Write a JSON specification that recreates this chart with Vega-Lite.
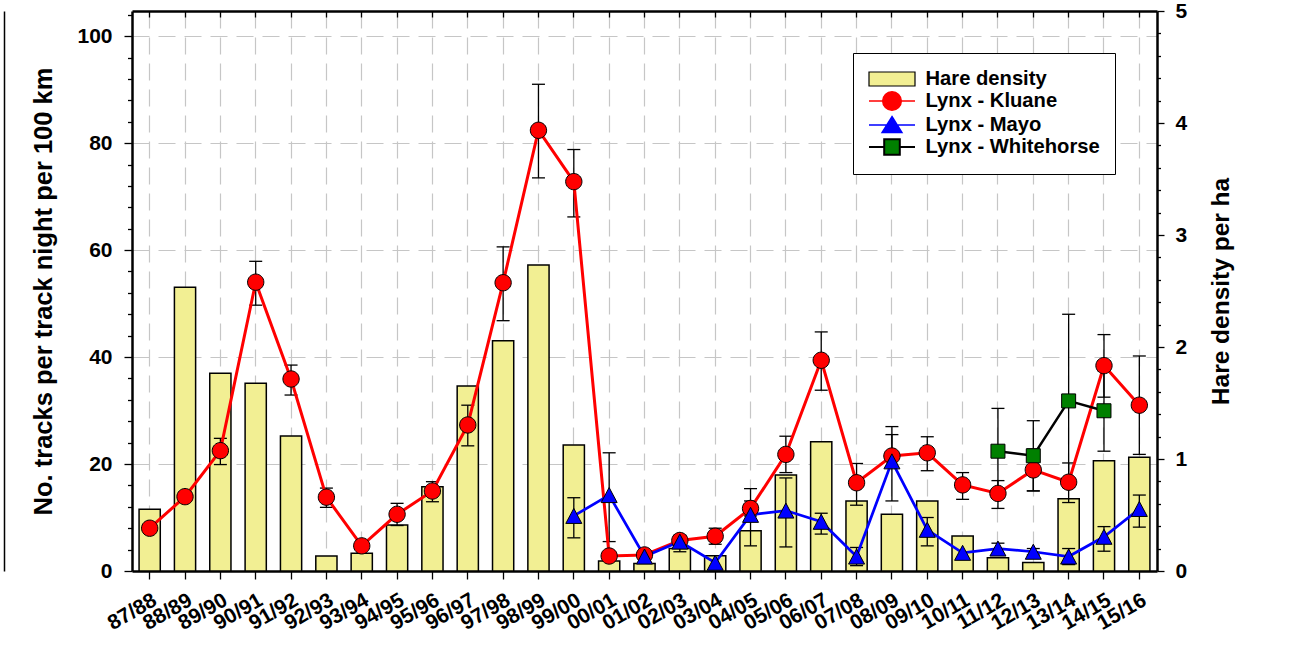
{
  "$schema": "https://vega.github.io/schema/vega-lite/v6.json",
  "width": 1025,
  "height": 560,
  "autosize": {"type": "none"},
  "padding": {"left": 132, "top": 11, "right": 147, "bottom": 99},
  "background": "white",
  "datasets": {
    "hare": [
      {"season": "87/88", "density": 0.551},
      {"season": "88/89", "density": 2.533},
      {"season": "89/90", "density": 1.765},
      {"season": "90/91", "density": 1.676},
      {"season": "91/92", "density": 1.205},
      {"season": "92/93", "density": 0.134},
      {"season": "93/94", "density": 0.158},
      {"season": "94/95", "density": 0.41},
      {"season": "95/96", "density": 0.753},
      {"season": "96/97", "density": 1.652},
      {"season": "97/98", "density": 2.056},
      {"season": "98/99", "density": 2.732},
      {"season": "99/00", "density": 1.125},
      {"season": "00/01", "density": 0.089},
      {"season": "01/02", "density": 0.068},
      {"season": "02/03", "density": 0.2},
      {"season": "03/04", "density": 0.137},
      {"season": "04/05", "density": 0.36},
      {"season": "05/06", "density": 0.857},
      {"season": "06/07", "density": 1.155},
      {"season": "07/08", "density": 0.625},
      {"season": "08/09", "density": 0.506},
      {"season": "09/10", "density": 0.625},
      {"season": "10/11", "density": 0.3125},
      {"season": "11/12", "density": 0.119},
      {"season": "12/13", "density": 0.077},
      {"season": "13/14", "density": 0.646},
      {"season": "14/15", "density": 0.985},
      {"season": "15/16", "density": 1.015}
    ],
    "lynx": [
      {"season": "87/88", "site": "Lynx - Kluane", "tracks": 8.0, "lower": null, "upper": null},
      {"season": "88/89", "site": "Lynx - Kluane", "tracks": 13.9, "lower": null, "upper": null},
      {"season": "89/90", "site": "Lynx - Kluane", "tracks": 22.5, "lower": 19.9, "upper": 24.8},
      {"season": "90/91", "site": "Lynx - Kluane", "tracks": 54.0, "lower": 49.7, "upper": 57.9},
      {"season": "91/92", "site": "Lynx - Kluane", "tracks": 35.9, "lower": 32.9, "upper": 38.5},
      {"season": "92/93", "site": "Lynx - Kluane", "tracks": 13.8, "lower": 11.9, "upper": 15.5},
      {"season": "93/94", "site": "Lynx - Kluane", "tracks": 4.7, "lower": null, "upper": null},
      {"season": "94/95", "site": "Lynx - Kluane", "tracks": 10.6, "lower": 8.5, "upper": 12.65},
      {"season": "95/96", "site": "Lynx - Kluane", "tracks": 14.95, "lower": 12.95, "upper": 16.7},
      {"season": "96/97", "site": "Lynx - Kluane", "tracks": 27.3, "lower": 23.4, "upper": 31.0},
      {"season": "97/98", "site": "Lynx - Kluane", "tracks": 53.9, "lower": 46.8, "upper": 60.6},
      {"season": "98/99", "site": "Lynx - Kluane", "tracks": 82.4, "lower": 73.5, "upper": 91.0},
      {"season": "99/00", "site": "Lynx - Kluane", "tracks": 72.8, "lower": 66.2, "upper": 78.8},
      {"season": "00/01", "site": "Lynx - Kluane", "tracks": 2.8, "lower": null, "upper": null},
      {"season": "01/02", "site": "Lynx - Kluane", "tracks": 3.0, "lower": null, "upper": null},
      {"season": "02/03", "site": "Lynx - Kluane", "tracks": 5.7, "lower": 4.9, "upper": 6.5},
      {"season": "03/04", "site": "Lynx - Kluane", "tracks": 6.5, "lower": 5.0, "upper": 8.0},
      {"season": "04/05", "site": "Lynx - Kluane", "tracks": 11.7, "lower": 10.3, "upper": 13.1},
      {"season": "05/06", "site": "Lynx - Kluane", "tracks": 21.8, "lower": 18.4, "upper": 25.2},
      {"season": "06/07", "site": "Lynx - Kluane", "tracks": 39.4, "lower": 33.8, "upper": 44.7},
      {"season": "07/08", "site": "Lynx - Kluane", "tracks": 16.5, "lower": 12.3, "upper": 20.1},
      {"season": "08/09", "site": "Lynx - Kluane", "tracks": 21.5, "lower": 19.5, "upper": 25.5},
      {"season": "09/10", "site": "Lynx - Kluane", "tracks": 22.1, "lower": 18.75, "upper": 25.1},
      {"season": "10/11", "site": "Lynx - Kluane", "tracks": 16.1, "lower": 13.4, "upper": 18.4},
      {"season": "11/12", "site": "Lynx - Kluane", "tracks": 14.5, "lower": 11.7, "upper": 16.9},
      {"season": "12/13", "site": "Lynx - Kluane", "tracks": 18.9, "lower": 14.95, "upper": 22.8},
      {"season": "13/14", "site": "Lynx - Kluane", "tracks": 16.6, "lower": 12.8, "upper": 20.2},
      {"season": "14/15", "site": "Lynx - Kluane", "tracks": 38.4, "lower": 32.5, "upper": 44.2},
      {"season": "15/16", "site": "Lynx - Kluane", "tracks": 31.0, "lower": 21.8, "upper": 40.2},
      {"season": "99/00", "site": "Lynx - Mayo", "tracks": 10.3, "lower": 6.2, "upper": 13.7},
      {"season": "00/01", "site": "Lynx - Mayo", "tracks": 14.2, "lower": 5.5, "upper": 22.1},
      {"season": "01/02", "site": "Lynx - Mayo", "tracks": 2.7, "lower": null, "upper": null},
      {"season": "02/03", "site": "Lynx - Mayo", "tracks": 5.5, "lower": 3.6, "upper": 6.7},
      {"season": "03/04", "site": "Lynx - Mayo", "tracks": 1.55, "lower": null, "upper": null},
      {"season": "04/05", "site": "Lynx - Mayo", "tracks": 10.5, "lower": 4.7, "upper": 15.4},
      {"season": "05/06", "site": "Lynx - Mayo", "tracks": 11.3, "lower": 4.5, "upper": 17.4},
      {"season": "06/07", "site": "Lynx - Mayo", "tracks": 9.2, "lower": 6.9, "upper": 10.8},
      {"season": "07/08", "site": "Lynx - Mayo", "tracks": 2.7, "lower": 1.0, "upper": 4.4},
      {"season": "08/09", "site": "Lynx - Mayo", "tracks": 20.5, "lower": 13.1, "upper": 27.0},
      {"season": "09/10", "site": "Lynx - Mayo", "tracks": 7.7, "lower": 4.7, "upper": 10.0},
      {"season": "10/11", "site": "Lynx - Mayo", "tracks": 3.4, "lower": null, "upper": null},
      {"season": "11/12", "site": "Lynx - Mayo", "tracks": 4.2, "lower": 3.2, "upper": 5.2},
      {"season": "12/13", "site": "Lynx - Mayo", "tracks": 3.6, "lower": 3.0, "upper": 4.2},
      {"season": "13/14", "site": "Lynx - Mayo", "tracks": 2.7, "lower": 1.2, "upper": 4.2},
      {"season": "14/15", "site": "Lynx - Mayo", "tracks": 6.4, "lower": 3.7, "upper": 8.3},
      {"season": "15/16", "site": "Lynx - Mayo", "tracks": 11.6, "lower": 8.2, "upper": 14.2},
      {"season": "11/12", "site": "Lynx - Whitehorse", "tracks": 22.4, "lower": 14.2, "upper": 30.4},
      {"season": "12/13", "site": "Lynx - Whitehorse", "tracks": 21.55, "lower": 15.0, "upper": 28.1},
      {"season": "13/14", "site": "Lynx - Whitehorse", "tracks": 31.8, "lower": 15.6, "upper": 48.0},
      {"season": "14/15", "site": "Lynx - Whitehorse", "tracks": 29.96, "lower": 22.4, "upper": 37.4}
    ],
    "legendkeys": [
      {"series": "Hare density"},
      {"series": "Lynx - Kluane"},
      {"series": "Lynx - Mayo"},
      {"series": "Lynx - Whitehorse"}
    ]
  },
  "config": {
    "view": {"stroke": null},
    "font": "Liberation Sans",
    "axis": {
      "labelFont": "Liberation Sans",
      "labelFontSize": 21,
      "labelFontWeight": "bold",
      "labelColor": "#000000",
      "titleFont": "Liberation Sans",
      "titleFontWeight": "bold",
      "titleColor": "#000000",
      "domainColor": "#000000",
      "domainWidth": 2.5,
      "tickColor": "#000000",
      "tickWidth": 1.3,
      "gridColor": "#c6c6c6",
      "gridDash": [17, 9],
      "gridWidth": 1.2
    },
    "legend": {
      "title": null,
      "orient": "top-right",
      "offset": 42,
      "padding": 15,
      "strokeColor": "#000000",
      "fillColor": "#ffffff",
      "labelFont": "Liberation Sans",
      "labelFontSize": 20.2,
      "labelFontWeight": "bold",
      "labelColor": "#000000",
      "labelLimit": 400,
      "labelOffset": 22.5,
      "symbolOffset": 13,
      "symbolSize": 400,
      "symbolOpacity": 1,
      "rowPadding": -2.1
    }
  },
  "resolve": {
    "scale": {"y": "independent", "shape": "independent", "fill": "independent", "stroke": "independent", "strokeWidth": "independent"},
    "axis": {"x": "independent", "y": "independent"}
  },
  "layer": [
    {
      "data": {"name": "hare"},
      "mark": {"type": "bar", "fill": "#f2ef93", "stroke": "#000000", "strokeWidth": 1.5},
      "encoding": {
        "x": {
          "field": "season", "type": "ordinal",
          "scale": {"type": "band", "domain": ["87/88","88/89","89/90","90/91","91/92","92/93","93/94","94/95","95/96","96/97","97/98","98/99","99/00","00/01","01/02","02/03","03/04","04/05","05/06","06/07","07/08","08/09","09/10","10/11","11/12","12/13","13/14","14/15","15/16"], "paddingInner": 0.4, "paddingOuter": 0.2},
          "axis": {"orient": "bottom", "title": null, "labelAngle": -30, "labelAlign": "right", "labelBaseline": "top", "labelPadding": 10, "tickSize": 8, "grid": true, "domain": true}
        },
        "y": {
          "field": "density", "type": "quantitative",
          "scale": {"domain": [0, 5], "nice": false, "zero": true},
          "axis": {
            "orient": "right", "title": "Hare density per ha", "titleFontSize": 24.5, "titleAngle": -90, "titleBaseline": "top", "titlePadding": 23,
            "values": [0,0.2,0.4,0.6,0.8,1,1.2,1.4,1.6,1.8,2,2.2,2.4,2.6,2.8,3,3.2,3.4,3.6,3.8,4,4.2,4.4,4.6,4.8,5],
            "labelExpr": "datum.value % 1 === 0 ? format(datum.value, 'd') : ''",
            "tickSize": {"condition": {"test": "datum.value % 1 === 0", "value": 7}, "value": 3.5},
            "labelPadding": 11, "grid": false
          }
        }
      }
    },
    {
      "data": {"name": "lynx"},
      "transform": [{"filter": "datum.lower != null"}],
      "mark": {"type": "rule", "color": "#000000", "strokeWidth": 1.3},
      "encoding": {
        "x": {"field": "season", "type": "ordinal", "scale": {"type": "band"}, "axis": null},
        "y": {
          "field": "lower", "type": "quantitative",
          "scale": {"domain": [0, 104.7], "nice": false, "zero": true},
          "axis": {
            "orient": "left", "title": "No. tracks per track night per 100 km", "titleFontSize": 25.5, "titlePadding": 20,
            "values": [0,4,8,12,16,20,24,28,32,36,40,44,48,52,56,60,64,68,72,76,80,84,88,92,96,100,104],
            "labelExpr": "datum.value % 20 === 0 ? format(datum.value, 'd') : ''",
            "tickSize": {"condition": {"test": "datum.value % 20 === 0", "value": 8}, "value": 4.5},
            "labelPadding": 12,
            "grid": true,
            "gridOpacity": {"condition": {"test": "datum.value % 20 === 0", "value": 1}, "value": 0}
          }
        },
        "y2": {"field": "upper"}
      }
    },
    {
      "data": {"name": "lynx"},
      "transform": [{"filter": "datum.lower != null"}],
      "mark": {"type": "tick", "color": "#000000", "size": 13, "thickness": 1.3, "opacity": 1},
      "encoding": {
        "x": {"field": "season", "type": "ordinal", "scale": {"type": "band"}, "axis": null},
        "y": {"field": "upper", "type": "quantitative", "scale": {"domain": [0, 104.7], "nice": false}, "axis": null}
      }
    },
    {
      "data": {"name": "lynx"},
      "transform": [{"filter": "datum.lower != null"}],
      "mark": {"type": "tick", "color": "#000000", "size": 13, "thickness": 1.3, "opacity": 1},
      "encoding": {
        "x": {"field": "season", "type": "ordinal", "scale": {"type": "band"}, "axis": null},
        "y": {
          "field": "lower", "type": "quantitative", "scale": {"domain": [0, 104.7], "nice": false},
          "axis": {"orient": "left", "offset": 128, "labels": false, "ticks": false, "grid": false, "title": null, "domain": true, "domainWidth": 1.5}
        }
      }
    },
    {
      "data": {"name": "lynx"},
      "mark": {"type": "line", "opacity": 1},
      "encoding": {
        "x": {
          "field": "season", "type": "ordinal", "scale": {"type": "band"},
          "axis": {"orient": "top", "labels": false, "title": null, "tickSize": -6, "grid": false, "domain": true}
        },
        "y": {"field": "tracks", "type": "quantitative", "scale": {"domain": [0, 104.7], "nice": false}, "axis": null},
        "stroke": {"field": "site", "type": "nominal", "scale": {"domain": ["Lynx - Kluane", "Lynx - Mayo", "Lynx - Whitehorse"], "range": ["#ff0000", "#0000ff", "#000000"]}, "legend": null},
        "strokeWidth": {"field": "site", "type": "nominal", "scale": {"domain": ["Lynx - Kluane", "Lynx - Mayo", "Lynx - Whitehorse"], "range": [3, 2.5, 1]}, "legend": null},
        "order": {"value": null}
      }
    },
    {
      "data": {"name": "lynx"},
      "mark": {"type": "point", "filled": true, "stroke": "#000000", "strokeWidth": 1, "opacity": 1, "size": 256},
      "encoding": {
        "x": {"field": "season", "type": "ordinal", "scale": {"type": "band"}, "axis": null},
        "y": {"field": "tracks", "type": "quantitative", "scale": {"domain": [0, 104.7], "nice": false}, "axis": null},
        "fill": {"field": "site", "type": "nominal", "scale": {"domain": ["Lynx - Kluane", "Lynx - Mayo", "Lynx - Whitehorse"], "range": ["#ff0000", "#0000ff", "#008000"]}, "legend": null},
        "shape": {
          "field": "site", "type": "nominal",
          "scale": {
            "domain": ["Lynx - Kluane", "Lynx - Mayo", "Lynx - Whitehorse"],
            "range": ["M-1.02,0A1.02,1.02,0,1,0,1.02,0A1.02,1.02,0,1,0,-1.02,0Z", "M0,-0.94L1,0.94L-1,0.94Z", "M-0.875,-0.875H0.875V0.875H-0.875Z"]
          },
          "legend": null
        }
      }
    },
    {
      "data": {"name": "legendkeys"},
      "transform": [{"filter": "false"}],
      "mark": {"type": "point", "filled": true, "opacity": 1},
      "encoding": {
        "shape": {
          "field": "series", "type": "nominal",
          "scale": {
            "domain": ["Hare density", "Lynx - Kluane", "Lynx - Mayo", "Lynx - Whitehorse"],
            "range": [
              "M-2.3,-0.7H2.3V0.7H-2.3Z",
              "M-2.3,0H2.3M-0.93,0A0.93,0.93,0,1,0,0.93,0A0.93,0.93,0,1,0,-0.93,0Z",
              "M-2.3,0H2.3M0,-0.82L0.97,0.74L-0.97,0.74Z",
              "M-2.3,0H-0.78M0.78,0H2.3M-0.78,-0.78H0.78V0.78H-0.78Z"
            ]
          },
          "legend": {"title": null}
        },
        "fill": {
          "field": "series", "type": "nominal",
          "scale": {"domain": ["Hare density", "Lynx - Kluane", "Lynx - Mayo", "Lynx - Whitehorse"], "range": ["#f2ef93", "#ff0000", "#0000ff", "#008000"]},
          "legend": {"title": null}
        },
        "stroke": {
          "field": "series", "type": "nominal",
          "scale": {"domain": ["Hare density", "Lynx - Kluane", "Lynx - Mayo", "Lynx - Whitehorse"], "range": ["#000000", "#ff0000", "#0000ff", "#000000"]},
          "legend": {"title": null}
        },
        "strokeWidth": {
          "field": "series", "type": "nominal",
          "scale": {"domain": ["Hare density", "Lynx - Kluane", "Lynx - Mayo", "Lynx - Whitehorse"], "range": [1.2, 2, 2, 1.2]},
          "legend": {"title": null}
        }
      }
    }
  ]
}
